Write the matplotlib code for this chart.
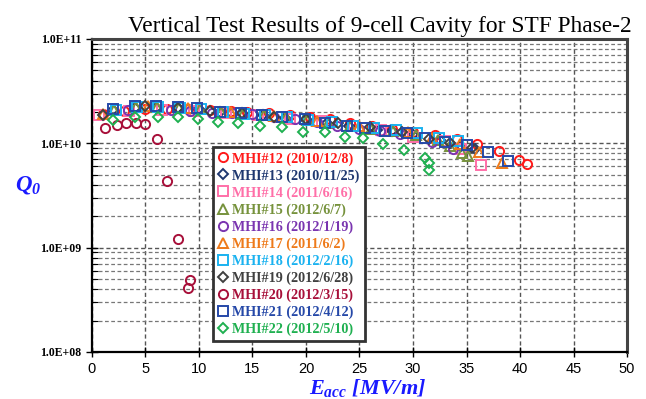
import numpy as np
import matplotlib
matplotlib.use("Agg")
import matplotlib.pyplot as plt
from matplotlib.ticker import LogLocator, NullFormatter, FixedLocator

# Eacc [MV/m] and Q0 (x1e10) for each 9-cell cavity
labels = ["MHI#12 (2010/12/8)", "MHI#13 (2010/11/25)", "MHI#14 (2011/6/16)",
          "MHI#15 (2012/6/7)", "MHI#16 (2012/1/19)", "MHI#17 (2011/6/2)",
          "MHI#18 (2012/2/16)", "MHI#19 (2012/6/28)", "MHI#20 (2012/3/15)",
          "MHI#21 (2012/4/12)", "MHI#22 (2012/5/10)"]
colors = ["#ff1a1a", "#1f3870", "#ff6fa8", "#76923c", "#7a35b0", "#ee7a1a",
          "#1ab2f0", "#404040", "#a8103a", "#2548a8", "#1fb050"]
markers = ["o", "D", "s", "^", "o", "^", "s", "D", "o", "s", "D"]

e12 = [1.0, 3.0, 5.0, 7.0, 9.0, 11.0, 13.0, 14.5, 16.5, 18.5, 20.4, 22.2, 24.1,
       26.2, 28.0, 30.0, 32.1, 34.1, 36.0, 38.0, 39.9, 40.7]
q12 = [1.9, 2.05, 2.15, 2.15, 2.15, 2.1, 2.05, 2.0, 1.95, 1.85, 1.79, 1.71, 1.58,
       1.45, 1.38, 1.27, 1.19, 1.09, 0.98, 0.84, 0.69, 0.63]

e13 = [2.0, 4.0, 6.0, 8.0, 10.0, 12.0, 14.0, 16.0, 18.0, 20.0, 22.0, 24.0, 26.6,
       28.0, 30.0, 32.5, 34.5, 35.8]
q13 = [2.1, 2.2, 2.2, 2.18, 2.12, 2.0, 1.93, 1.85, 1.75, 1.68, 1.58, 1.47, 1.33,
       1.3, 1.2, 1.08, 0.95, 0.88]

e14 = [0.7, 3.5, 6.5, 9.5, 12.5, 15.5, 18.5, 21.5, 24.5, 27.0, 30.0, 33.0, 34.5, 36.4]
q14 = [1.85, 2.05, 2.1, 2.05, 1.95, 1.85, 1.72, 1.62, 1.48, 1.33, 1.15, 1.05, 0.88, 0.62]

e15 = [2.1, 4.1, 6.1, 8.1, 10.1, 12.1, 14.1, 16.1, 18.1, 20.1, 22.1, 24.1, 26.1,
       28.1, 30.3, 32.3, 33.5, 34.6, 35.1]
q15 = [2.1, 2.25, 2.25, 2.2, 2.12, 2.0, 1.93, 1.85, 1.77, 1.68, 1.58, 1.46, 1.38,
       1.3, 1.2, 1.08, 0.95, 0.8, 0.75]

e16 = [3.4, 7.4, 9.2, 11.2, 13.1, 15.0, 17.0, 19.0, 21.0, 22.9, 25.0, 26.9, 28.8,
       31.8, 33.7]
q16 = [2.1, 2.1, 2.05, 1.95, 1.95, 1.9, 1.8, 1.72, 1.6, 1.45, 1.38, 1.3, 1.22,
       1.03, 0.88]

e17 = [1.0, 5.2, 9.0, 13.0, 17.0, 21.0, 25.0, 29.5, 31.8, 34.4, 36.2, 38.3]
q17 = [1.9, 2.3, 2.2, 2.0, 1.82, 1.62, 1.45, 1.28, 1.12, 0.98, 0.82, 0.65]

e18 = [2.2, 4.2, 6.2, 8.2, 10.2, 12.2, 14.2, 16.2, 18.2, 20.2, 22.4, 24.4, 26.4,
       28.4, 30.4, 32.4, 34.2]
q18 = [2.1, 2.25, 2.25, 2.2, 2.15, 2.0, 1.93, 1.85, 1.78, 1.68, 1.6, 1.48, 1.4,
       1.35, 1.25, 1.13, 1.05]

e19 = [1.0, 5.0, 8.0, 11.0, 14.0, 17.0, 20.0, 23.0, 26.0, 29.0, 31.5, 33.5, 35.5]
q19 = [1.87, 2.3, 2.2, 2.05, 1.95, 1.8, 1.7, 1.55, 1.42, 1.28, 1.1, 1.0, 0.9]

e20 = [1.2, 2.3, 3.2, 4.1, 5.0, 6.1, 7.0, 8.0, 9.2, 9.0]
q20 = [1.40, 1.50, 1.56, 1.56, 1.53, 1.10, 0.435, 0.121, 0.049, 0.041]

e21 = [2.0, 4.0, 6.0, 8.0, 9.8, 12.0, 13.9, 15.9, 17.8, 19.9, 21.8, 23.8, 25.5,
       27.4, 29.4, 31.1, 33.0, 35.0, 37.0, 38.9]
q21 = [2.13, 2.28, 2.28, 2.23, 2.18, 2.0, 1.95, 1.87, 1.79, 1.71, 1.57, 1.46, 1.40,
       1.31, 1.25, 1.12, 1.03, 0.96, 0.82, 0.68]

e22 = [2.0, 4.0, 6.2, 8.0, 9.9, 11.8, 13.6, 15.7, 17.8, 19.7, 21.8, 23.6, 25.3,
       27.2, 29.2, 31.1, 31.5, 31.5]
q22 = [1.67, 1.79, 1.79, 1.79, 1.71, 1.6, 1.57, 1.46, 1.43, 1.28, 1.28, 1.15, 1.12,
       0.98, 0.86, 0.72, 0.65, 0.55]

eacc = [e12, e13, e14, e15, e16, e17, e18, e19, e20, e21, e22]
q0 = [q12, q13, q14, q15, q16, q17, q18, q19, q20, q21, q22]

plt.rcParams["mathtext.fontset"] = "custom"
plt.rcParams["mathtext.it"] = "Liberation Serif:italic:bold"
plt.rcParams["mathtext.rm"] = "Liberation Serif:italic:bold"

fig = plt.figure(figsize=(6.46, 3.99), dpi=100)
ax = fig.add_axes([0.1424, 0.1178, 0.8282, 0.7845])

for x, q, c, m, lab in zip(eacc, q0, colors, markers, labels):
    ms = 6.6 if m != "D" else 5.2
    ax.plot(x, np.array(q) * 1e10, linestyle="none", marker=m, markersize=ms,
            markerfacecolor="none", markeredgecolor=c, markeredgewidth=1.4,
            color=c, label=lab)

ax.set_yscale("log")
ax.set_xlim(0, 50)
ax.set_ylim(1e8, 1e11)
ax.xaxis.set_major_locator(FixedLocator(np.arange(0, 51, 5)))
ax.yaxis.set_major_locator(LogLocator(base=10, numticks=10))
ax.yaxis.set_minor_locator(LogLocator(base=10, subs=np.arange(2, 10), numticks=20))
ax.yaxis.set_minor_formatter(NullFormatter())
ax.yaxis.set_major_formatter(matplotlib.ticker.FuncFormatter(
    lambda v, p: "1.0E+%02d" % round(np.log10(v))))

# dashed grid
ax.grid(True, which="major", axis="both", linestyle=(0, (3, 2)), color="#555555", linewidth=1.0)
ax.grid(True, which="minor", axis="y", linestyle=(0, (3, 2)), color="#777777", linewidth=0.9)

ax.tick_params(axis="y", which="major", direction="inout", length=9, width=1.0,
               labelsize=8.5, pad=3)
ax.tick_params(axis="y", which="minor", direction="in", length=4, width=0.8)
ax.tick_params(axis="x", which="major", direction="inout", length=7, width=1.0,
               labelsize=10.5, pad=4)
for lab in ax.get_yticklabels():
    lab.set_fontfamily("Liberation Serif")
    lab.set_fontweight("bold")
for lab in ax.get_xticklabels():
    lab.set_fontfamily("Liberation Sans")

for side in ["left", "bottom"]:
    ax.spines[side].set_linewidth(1.6)
    ax.spines[side].set_color("black")
for side in ["top", "right"]:
    ax.spines[side].set_linewidth(2.2)
    ax.spines[side].set_color("#444444")

leg = ax.legend(loc="upper left", bbox_to_anchor=(0.226, 0.655), borderaxespad=0,
                frameon=True, fancybox=False, handlelength=0.7, handletextpad=0.3,
                labelspacing=0.25, borderpad=0.36, labelcolor="linecolor",
                prop={"family": "Liberation Serif", "weight": "bold", "size": 10.2})
leg.get_frame().set_edgecolor("#333333")
leg.get_frame().set_linewidth(2.0)
leg.get_frame().set_alpha(1)

fig.text(380 / 646, 1 - 32 / 399, "Vertical Test Results of 9-cell Cavity for STF Phase-2",
         ha="center", va="baseline", family="Liberation Serif", fontsize=16.8)

fig.text(28 / 646, 1 - 190 / 399, r"$\mathit{Q}_{\mathit{0}}$", ha="center", va="baseline",
         color="#1a1aff", fontsize=16.5)
fig.text(368 / 646, 1 - 394 / 399, r"$\mathit{E}_{\mathit{acc}}\ \mathit{[MV/m]}$",
         ha="center", va="baseline", color="#1a1aff", fontsize=16)

fig.savefig("out.png", dpi=100, facecolor="white")
